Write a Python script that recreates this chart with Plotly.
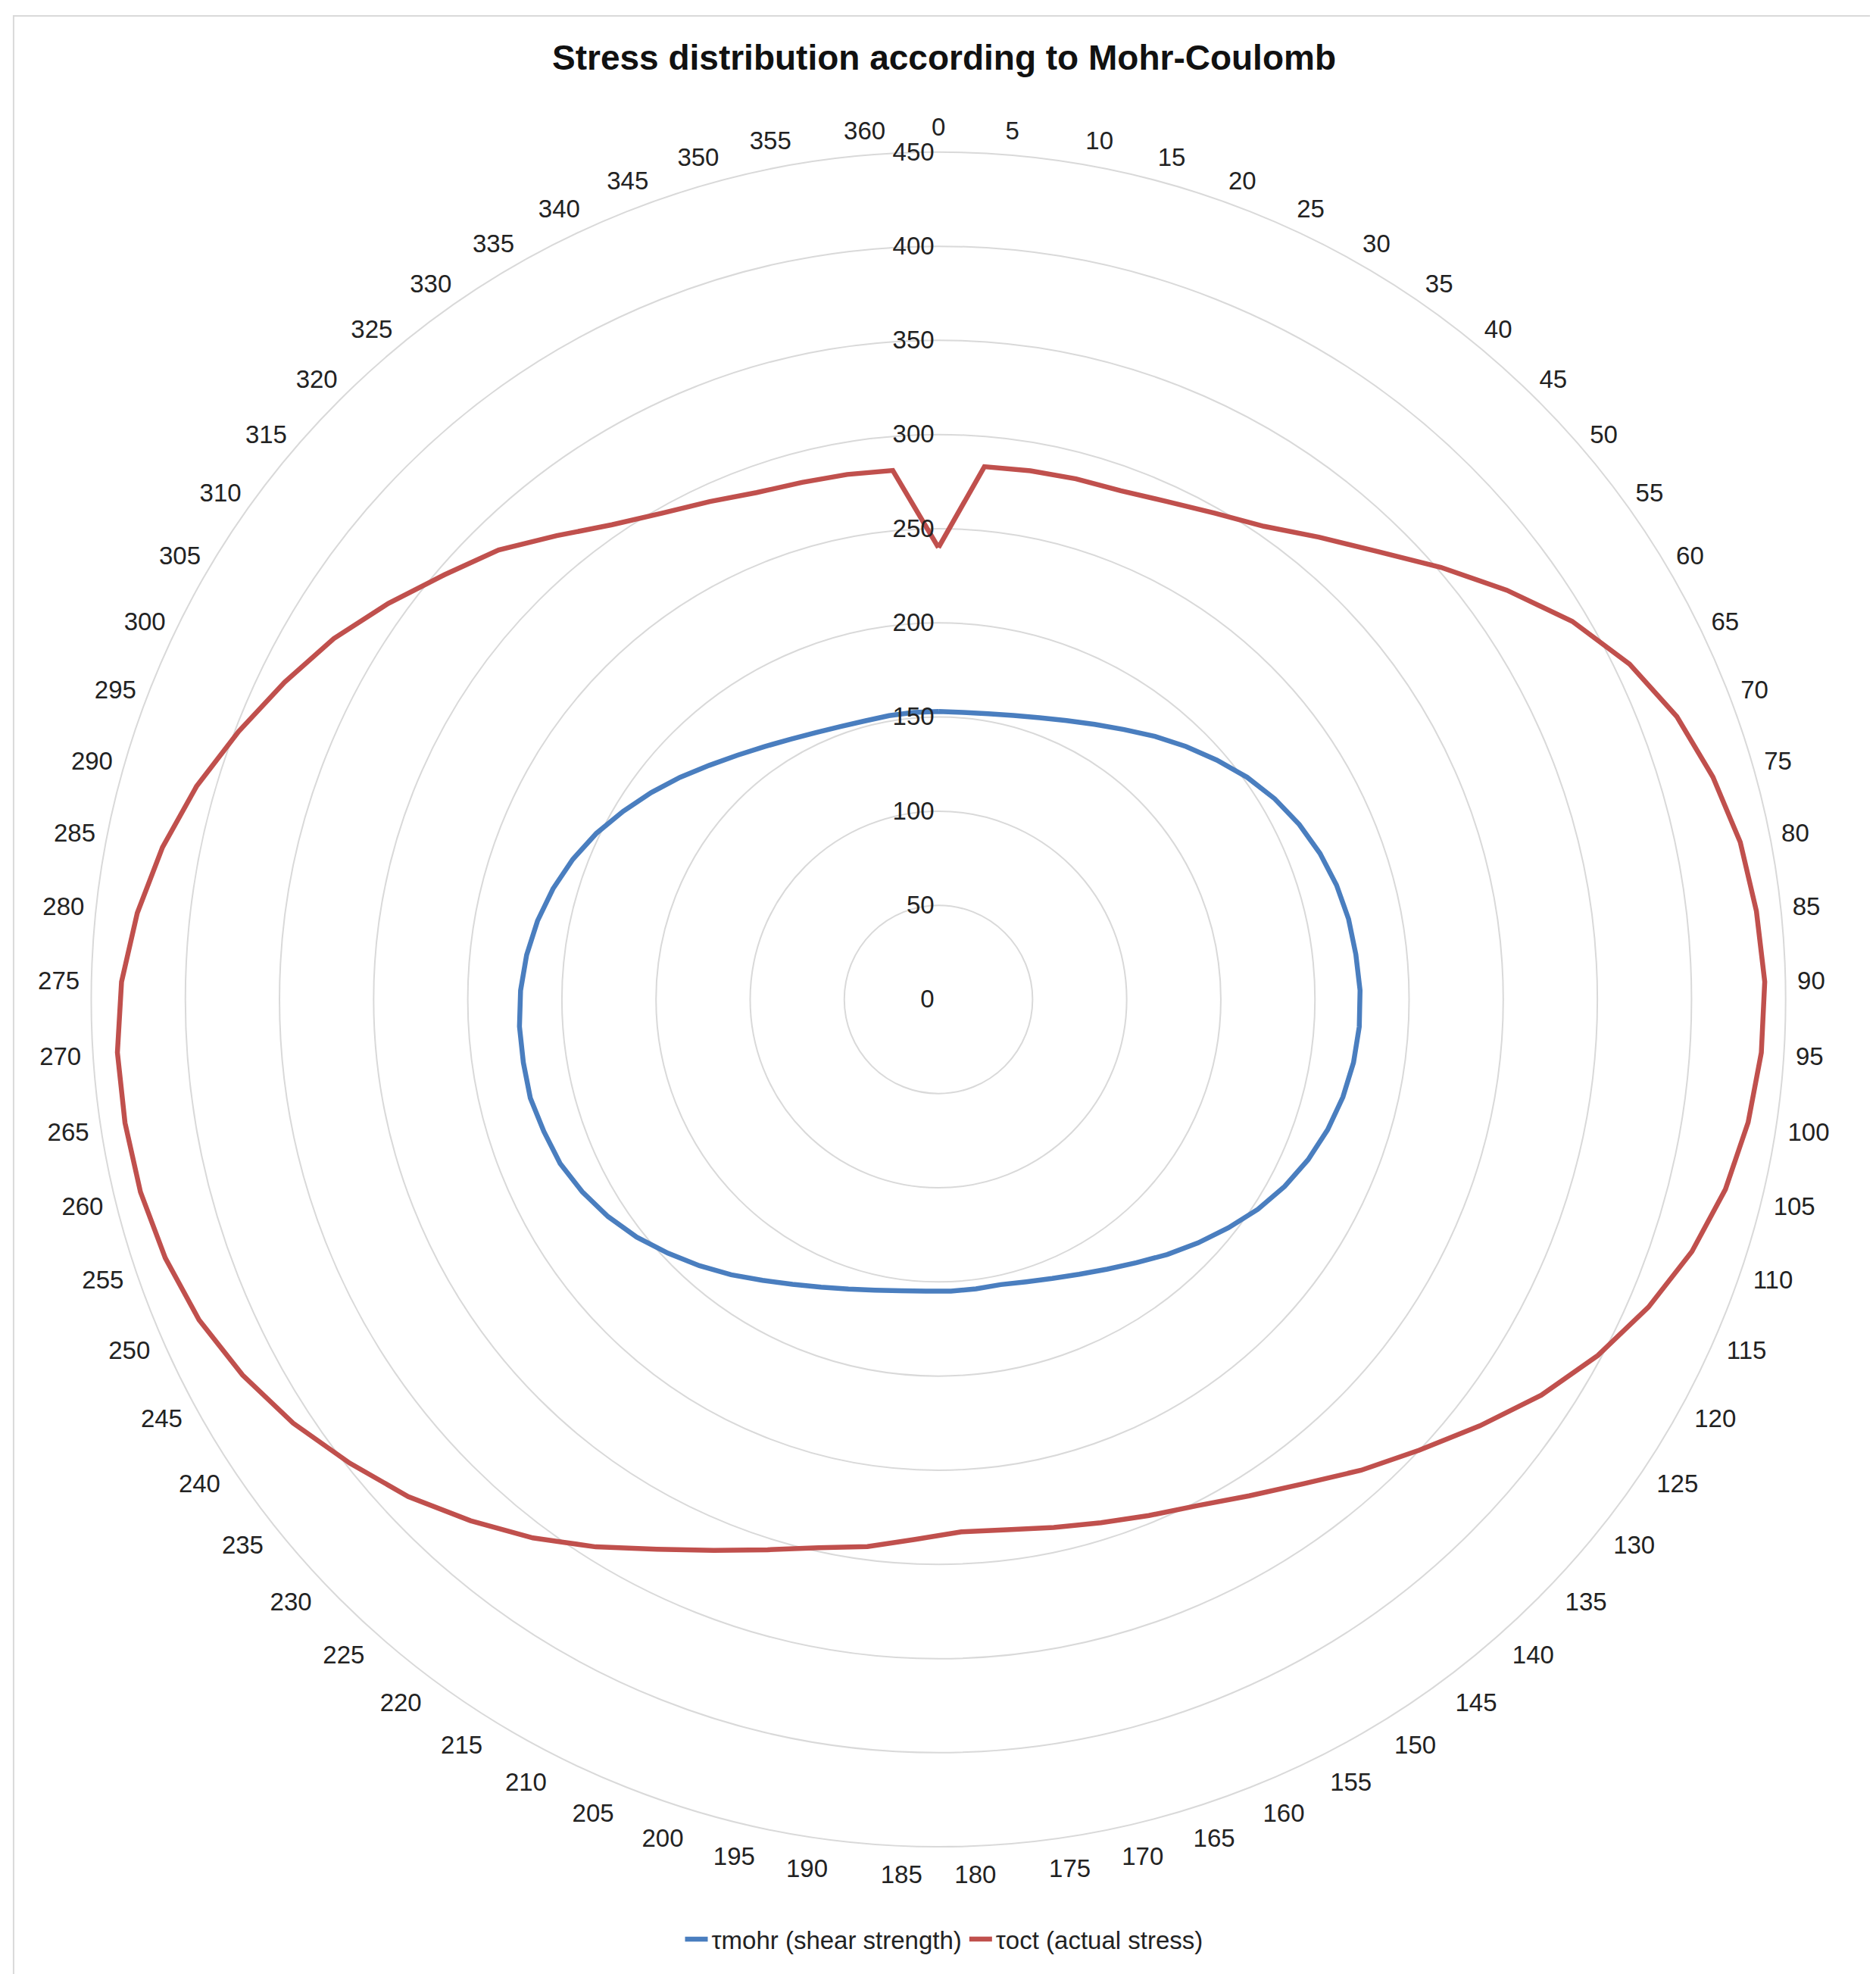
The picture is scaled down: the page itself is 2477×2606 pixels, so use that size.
import plotly.graph_objects as go

categories = [str(a) for a in range(0, 361, 5)]
tau_mohr = [153,153,154,156,159,163,168,174,181,188,195,202,208,213,217,220,222,223,224,224,223,221,218,214,209,203,196,189,182,175,169,164,160,157,155,155,155,155,156,158,161,165,170,176,183,190,197,204,210,215,219,221,223,223,223,222,220,217,213,208,202,195,188,181,174,168,163,159,156,154,153,153,153]
tau_oct = [240,284,285,286,287,291,297,305,318,333,352,372,392,408,420,428,434,437,439,438,435,430,422,411,398,383,366,350,336,322,311,302,296,291,287,284,283,287,293,298,306,316,328,343,358,372,386,398,410,420,428,433,436,437,437,434,428,420,410,398,386,374,360,346,334,319,306,297,291,286,284,283,282]

# close the radar loop (last category connects back to the first)
theta_closed = categories + categories[:1]

fig = go.Figure()
fig.add_trace(go.Scatterpolar(r=tau_mohr + tau_mohr[:1], theta=theta_closed, mode="lines",
                              name="τmohr (shear strength)", line=dict(color="#4a7ebf", width=6.5)))
fig.add_trace(go.Scatterpolar(r=tau_oct + tau_oct[:1], theta=theta_closed, mode="lines",
                              name="τoct (actual stress)", line=dict(color="#c0504d", width=6.5)))

fig.update_layout(
    width=2477, height=2606,
    paper_bgcolor="white", plot_bgcolor="white",
    font=dict(family="Liberation Sans, Arial", size=33, color="#222"),
    title=dict(text="<b>Stress distribution according to Mohr-Coulomb</b>", x=0.5, xanchor="center",
               y=0.98, yanchor="top", font=dict(size=46, color="#111")),
    margin=dict(l=0, r=0, t=0, b=0),
    polar=dict(
        domain=dict(x=[0.045, 0.949], y=[0.0675, 0.926]),
        bgcolor="white",
        angularaxis=dict(type="category", direction="clockwise", rotation=90,
                         showgrid=False, linecolor="#d9d9d9", linewidth=2,
                         ticks="outside", ticklen=8, tickcolor="rgba(0,0,0,0)",
                         tickfont=dict(size=33)),
        radialaxis=dict(range=[0, 450], dtick=50, gridcolor="#d9d9d9", gridwidth=2,
                        showline=False, ticks="", angle=90, tickangle=90,
                        side="counterclockwise", tickfont=dict(size=33)),
    ),
    legend=dict(orientation="h", x=0.5, xanchor="center", y=0.01, yanchor="bottom",
                font=dict(size=33)),
    shapes=[dict(type="rect", xref="paper", yref="paper", x0=0.004, x1=0.996, y0=0.001, y1=0.995,
                 line=dict(color="#d9d9d9", width=2))],
)
fig.write_html("out.html")
